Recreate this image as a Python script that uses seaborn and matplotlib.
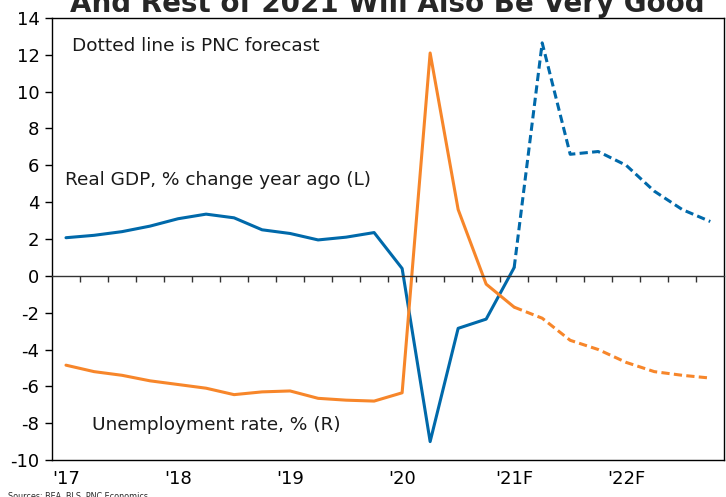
import numpy as np
import pandas as pd
import matplotlib.pyplot as plt
import seaborn as sns

sns.set_style('white')
plt.rcParams['font.family'] = ['DejaVu Sans']
plt.rcParams['axes.unicode_minus'] = False

# quarterly, Q1 2017 .. Q4 2022 (forecast from Q1 2021)
quarters = list(range(24))
gdp = [2.07, 2.2, 2.4, 2.7, 3.1, 3.35, 3.15, 2.5, 2.3, 1.95, 2.1, 2.35,
       0.4, -9.0, -2.85, -2.35, 0.45, 12.65, 6.6, 6.75, 6.0, 4.6, 3.6, 2.95]
unemp = [-4.85, -5.2, -5.4, -5.7, -5.9, -6.1, -6.45, -6.3, -6.25, -6.65, -6.75, -6.8,
         -6.35, 12.1, 3.6, -0.45, -1.7, -2.3, -3.5, -4.0, -4.7, -5.2, -5.4, -5.55]
forecast_start = 16
year_pos = [0, 4, 8, 12, 16, 20]
year_labels = ["'17", "'18", "'19", "'20", "'21F", "'22F"]

blue = '#0069AA'
orange = '#F7862A'

df = pd.DataFrame({'q': quarters, 'gdp': gdp, 'unemp': unemp})
hist = df[df['q'] <= forecast_start]
fcst = df[df['q'] >= forecast_start]

fig = plt.figure(figsize=(7.26, 4.97), dpi=100)
ax = fig.add_axes([0.0716, 0.0744, 0.926, 0.8894])

sns.lineplot(x='q', y='gdp', data=hist, color=blue, lw=2.2, ax=ax)
sns.lineplot(x='q', y='gdp', data=fcst, color=blue, lw=2.2, ax=ax)
ax.lines[-1].set_dashes((2.7, 1.4))
sns.lineplot(x='q', y='unemp', data=hist, color=orange, lw=2.2, ax=ax)
sns.lineplot(x='q', y='unemp', data=fcst, color=orange, lw=2.2, ax=ax)
ax.lines[-1].set_dashes((2.7, 1.4))

ax.set_xlim(-0.5, 23.5)
ax.set_ylim(-10, 14)
ax.set_yticks(np.arange(-10, 15, 2))
ax.set_xticks(year_pos)
ax.set_xticklabels(year_labels)
ax.set_xlabel('')
ax.set_ylabel('')
ax.tick_params(axis='x', length=0, pad=7, labelsize=13, colors='black')
ax.tick_params(axis='y', length=5, width=1, direction='out', left=True, pad=4,
               labelsize=13, colors='black')
for s in ax.spines.values():
    s.set_color('black')
    s.set_linewidth(1.0)

# zero line with quarter tick marks
ax2 = ax.twiny()
ax2.set_xlim(-0.5, 23.5)
ax2.xaxis.set_ticks_position('bottom')
ax2.spines['bottom'].set_position(('data', 0))
ax2.spines['bottom'].set_color('#333333')
ax2.spines['bottom'].set_linewidth(1.0)
for k in ['top', 'left', 'right']:
    ax2.spines[k].set_visible(False)
ax2.set_xticks(np.arange(0.5, 23, 1))
ax2.set_xticklabels([])
ax2.tick_params(axis='x', length=4, width=1, direction='out', colors='#333333')

txt_color = '#1a1a1a'
ax.text(0.0298, 0.937, 'Dotted line is PNC forecast', transform=ax.transAxes,
        fontsize=13.3, va='center', ha='left', color=txt_color)
ax.text(0.019, 0.633, 'Real GDP, % change year ago (L)', transform=ax.transAxes,
        fontsize=13.3, va='center', ha='left', color=txt_color)
ax.text(0.0595, 0.079, 'Unemployment rate, % (R)', transform=ax.transAxes,
        fontsize=13.3, va='center', ha='left', color=txt_color)

fig.text(0.533, 0.976, 'And Rest of 2021 Will Also Be Very Good', ha='center',
         va='baseline', fontsize=20, fontweight='bold')
fig.text(0.011, 0.010, 'Sources: BEA, BLS, PNC Economics', ha='left', va='top',
         fontsize=5.8)

fig.savefig('out.png', dpi=100)
